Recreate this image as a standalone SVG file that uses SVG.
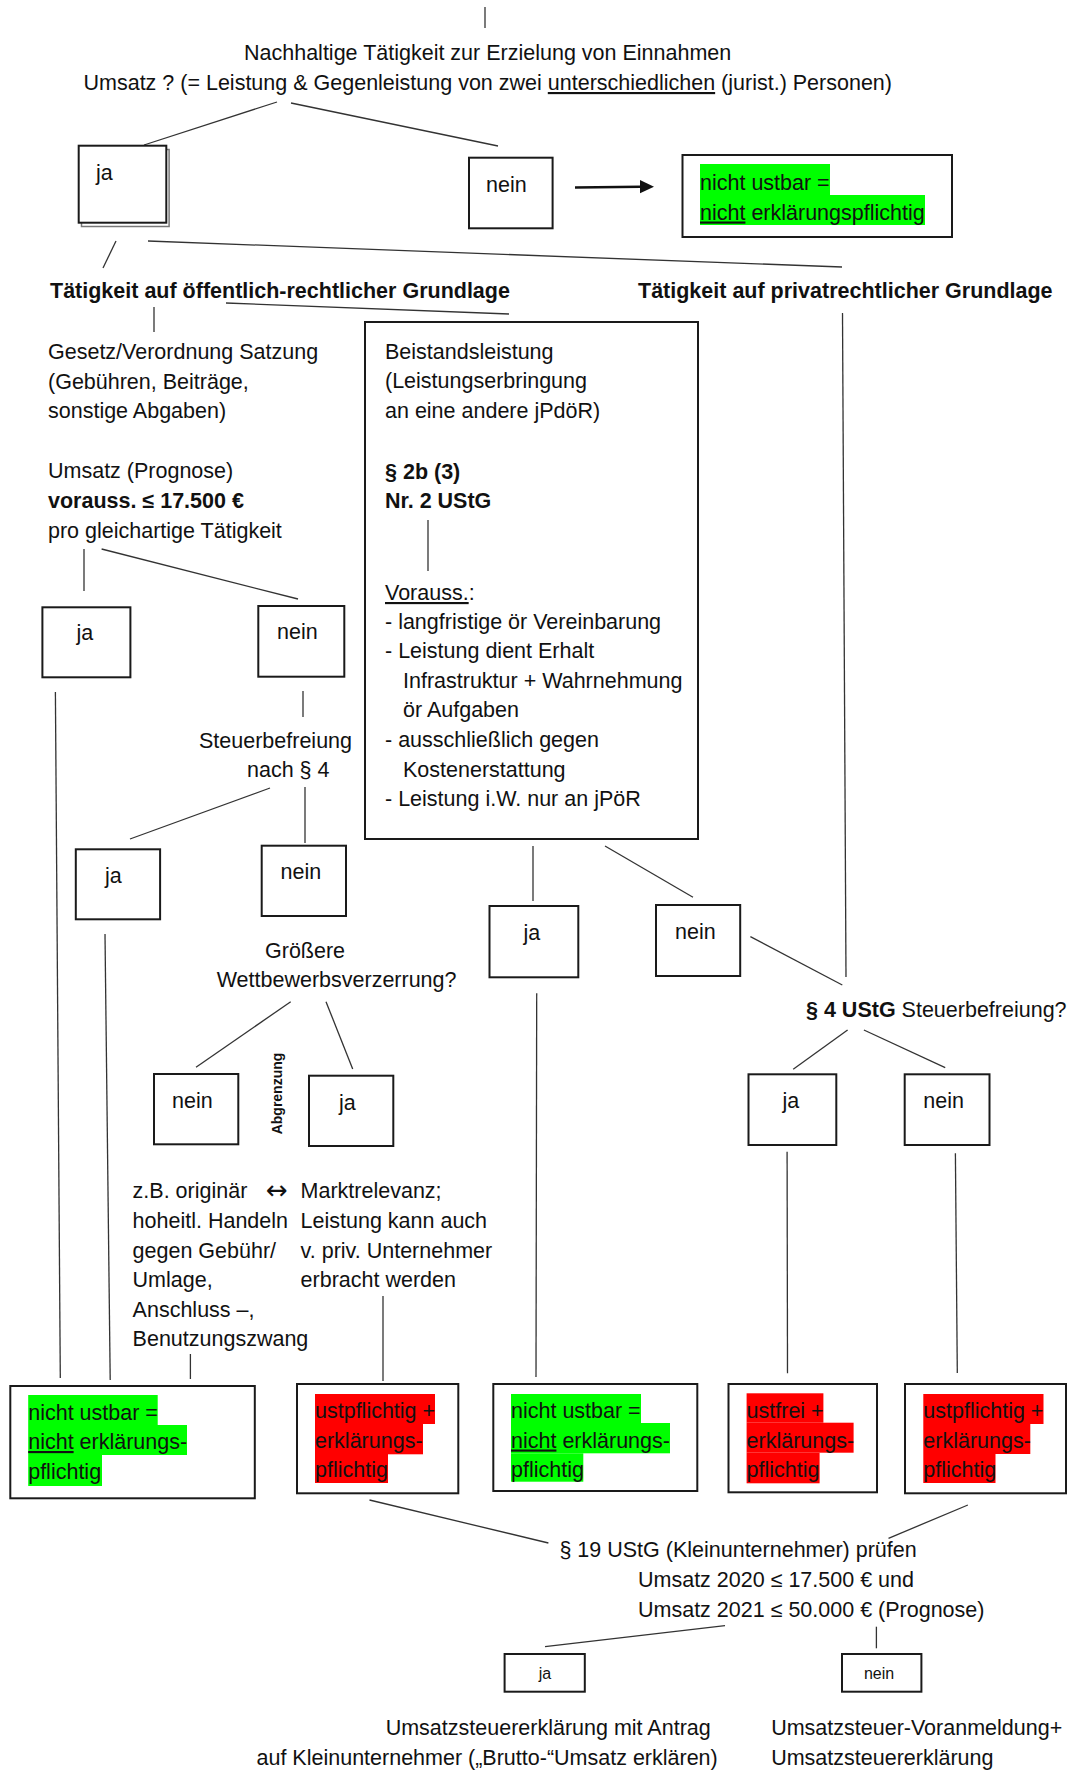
<svg xmlns="http://www.w3.org/2000/svg" width="1073" height="1772" viewBox="0 0 1073 1772">
<style>
text{font-family:"Liberation Sans",Arial,sans-serif;font-size:21.5px;fill:#111}
.b{font-weight:bold}
.sm{font-size:16px}
.u{text-decoration:underline}
.box{fill:#fff;stroke:#1a1a1a;stroke-width:2}
.ln{stroke:#333;stroke-width:1.3;fill:none}
.g{fill:#00ff00}
.r{fill:#ff0000}
.arr{font-family:"DejaVu Sans",sans-serif;font-size:26px}
</style>
<rect width="1073" height="1772" fill="#fff"/>

<g id="connectors">
<line class="ln" x1="485" y1="7" x2="485" y2="28"/>
<line class="ln" x1="277" y1="102" x2="144" y2="145"/>
<line class="ln" x1="291" y1="103" x2="498" y2="146"/>
<line x1="575" y1="187.5" x2="641" y2="186.8" stroke="#111" stroke-width="2.5"/>
<polygon points="640,180 654,186.7 640,193.3" fill="#111"/>
<line class="ln" x1="116" y1="241" x2="103" y2="268"/>
<line class="ln" x1="148" y1="241" x2="842" y2="267"/>
<line class="ln" x1="226" y1="303" x2="509" y2="314"/>
<line class="ln" x1="154" y1="307" x2="154" y2="332"/>
<line class="ln" x1="842.5" y1="313" x2="846" y2="977"/>
<line class="ln" x1="84" y1="549" x2="84" y2="591"/>
<line class="ln" x1="101.6" y1="549" x2="298" y2="599"/>
<line class="ln" x1="303" y1="691" x2="303" y2="717"/>
<line class="ln" x1="270" y1="788" x2="130" y2="839"/>
<line class="ln" x1="305" y1="787" x2="305" y2="843"/>
<line class="ln" x1="55.4" y1="692" x2="60.3" y2="1378"/>
<line class="ln" x1="105" y1="934" x2="110.2" y2="1380"/>
<line class="ln" x1="290.7" y1="1001.7" x2="196" y2="1067.3"/>
<line class="ln" x1="326" y1="1001.7" x2="352.7" y2="1069"/>
<line class="ln" x1="383" y1="1296" x2="383" y2="1381"/>
<line class="ln" x1="190.4" y1="1354" x2="190.4" y2="1379"/>
<line class="ln" x1="533" y1="846" x2="533" y2="901"/>
<line class="ln" x1="605" y1="846" x2="693" y2="897.3"/>
<line class="ln" x1="536.7" y1="993.3" x2="536" y2="1377"/>
<line class="ln" x1="750.4" y1="936.7" x2="842.3" y2="985"/>
<line class="ln" x1="847.6" y1="1030" x2="793.2" y2="1069.3"/>
<line class="ln" x1="863.9" y1="1030" x2="945.2" y2="1067.7"/>
<line class="ln" x1="787.1" y1="1151.7" x2="787.5" y2="1373.3"/>
<line class="ln" x1="955.4" y1="1153.3" x2="957.3" y2="1373"/>
<line class="ln" x1="369.5" y1="1500" x2="548.4" y2="1543"/>
<line class="ln" x1="967.9" y1="1505" x2="888.5" y2="1538.3"/>
<line class="ln" x1="725" y1="1625.7" x2="545" y2="1646.7"/>
<line class="ln" x1="876.4" y1="1626.7" x2="876.4" y2="1648.3"/>
</g>

<g id="title">
<text x="244" y="60">Nachhaltige Tätigkeit zur Erzielung von Einnahmen</text>
<text x="83.5" y="90">Umsatz ? (= Leistung &amp; Gegenleistung von zwei <tspan class="u">unterschiedlichen</tspan> (jurist.) Personen)</text>
</g>

<g id="ja-top">
<rect x="81.5" y="149.5" width="87.6" height="77" fill="#fff" stroke="#777" stroke-width="1.5"/>
<rect class="box" x="78.7" y="145.7" width="87.6" height="77"/>
<text x="96" y="180">ja</text>
</g>
<g id="nein-top">
<rect class="box" x="469" y="157.7" width="83.6" height="70.6"/>
<text x="486" y="192">nein</text>
</g>
<g id="nicht-ustbar-top">
<rect class="box" x="682.5" y="155" width="269.5" height="82"/>
<rect class="g" x="700" y="164" width="130" height="31"/>
<rect class="g" x="700" y="195" width="225" height="30"/>
<text x="700" y="189.5">nicht ustbar =</text>
<text x="700" y="219.5"><tspan class="u">nicht</tspan> erklärungspflichtig</text>
</g>

<g id="oeffentlich">
<text class="b" x="50" y="298">Tätigkeit auf öffentlich-rechtlicher Grundlage</text>
</g>
<g id="privat">
<text class="b" x="638" y="298">Tätigkeit auf privatrechtlicher Grundlage</text>
</g>

<g id="gesetz">
<text x="48" y="359">Gesetz/Verordnung Satzung</text>
<text x="48" y="388.5">(Gebühren, Beiträge,</text>
<text x="48" y="418">sonstige Abgaben)</text>
<text x="48" y="478">Umsatz (Prognose)</text>
<text class="b" x="48" y="508">vorauss. ≤ 17.500 €</text>
<text x="48" y="538">pro gleichartige Tätigkeit</text>
</g>

<g id="beistand">
<rect class="box" x="365" y="322" width="333" height="517" stroke-width="1.6"/>
<text x="385" y="358.5">Beistandsleistung</text>
<text x="385" y="388">(Leistungserbringung</text>
<text x="385" y="418">an eine andere jPdöR)</text>
<text class="b" x="385" y="478.5">§ 2b (3)</text>
<text class="b" x="385" y="508">Nr. 2 UStG</text>
<line class="ln" x1="428" y1="520" x2="428" y2="571"/>
<text x="385" y="600"><tspan class="u">Vorauss.</tspan>:</text>
<text x="385" y="629">- langfristige ör Vereinbarung</text>
<text x="385" y="658">- Leistung dient Erhalt</text>
<text x="403" y="687.5">Infrastruktur + Wahrnehmung</text>
<text x="403" y="717">ör Aufgaben</text>
<text x="385" y="747">- ausschließlich gegen</text>
<text x="403" y="776.5">Kostenerstattung</text>
<text x="385" y="806">- Leistung i.W. nur an jPöR</text>
</g>

<g id="ja-umsatz">
<rect class="box" x="42.4" y="607.3" width="88" height="70"/>
<text x="76.4" y="640">ja</text>
</g>
<g id="nein-umsatz">
<rect class="box" x="258.3" y="606" width="86" height="70.7"/>
<text x="277" y="639">nein</text>
</g>
<g id="steuerbefreiung4">
<text x="199" y="748.3">Steuerbefreiung</text>
<text x="247" y="777">nach § 4</text>
</g>
<g id="ja-befreiung">
<rect class="box" x="75.8" y="849.3" width="84.3" height="70"/>
<text x="105" y="883">ja</text>
</g>
<g id="nein-befreiung">
<rect class="box" x="261.7" y="845.7" width="84.3" height="70.3"/>
<text x="280.6" y="879">nein</text>
</g>
<g id="wettbewerb">
<text x="265" y="958">Größere</text>
<text x="216.7" y="987">Wettbewerbsverzerrung?</text>
</g>
<g id="nein-wettbewerb">
<rect class="box" x="154" y="1074" width="84.3" height="70.3"/>
<text x="172" y="1108">nein</text>
</g>
<g id="ja-wettbewerb">
<rect class="box" x="309" y="1075.7" width="84.3" height="70.3"/>
<text x="339" y="1110">ja</text>
</g>
<g id="abgrenzung">
<text class="b" text-anchor="middle" transform="translate(282 1093.5) rotate(-90)" style="font-size:14px">Abgrenzung</text>
</g>
<g id="hoheitlich">
<text x="132.6" y="1198">z.B. originär</text>
<text x="132.6" y="1228">hoheitl. Handeln</text>
<text x="132.6" y="1257.5">gegen Gebühr/</text>
<text x="132.6" y="1287">Umlage,</text>
<text x="132.6" y="1316.5">Anschluss –,</text>
<text x="132.6" y="1346">Benutzungszwang</text>
<text class="arr" x="266" y="1199">↔</text>
</g>
<g id="marktrelevanz">
<text x="300.6" y="1198">Marktrelevanz;</text>
<text x="300.6" y="1228">Leistung kann auch</text>
<text x="300.6" y="1257.5">v. priv. Unternehmer</text>
<text x="300.6" y="1287">erbracht werden</text>
</g>

<g id="ja-beistand">
<rect class="box" x="489.5" y="906" width="88.8" height="71.3"/>
<text x="523.5" y="940">ja</text>
</g>
<g id="nein-beistand">
<rect class="box" x="656" y="905" width="84.2" height="71"/>
<text x="675" y="939.3">nein</text>
</g>
<g id="ustg4">
<text x="806" y="1016.7"><tspan class="b">§ 4 UStG</tspan> Steuerbefreiung?</text>
</g>
<g id="ja-ustg4">
<rect class="box" x="748.5" y="1074.3" width="87.8" height="70.7"/>
<text x="782.6" y="1108.3">ja</text>
</g>
<g id="nein-ustg4">
<rect class="box" x="904.7" y="1074.3" width="84.8" height="70.7"/>
<text x="923.3" y="1107.7">nein</text>
</g>

<g id="result-1">
<rect class="box" x="10.3" y="1386" width="244.5" height="112.3"/>
<rect class="g" x="28.2" y="1395" width="129.5" height="30"/>
<rect class="g" x="28.2" y="1425" width="158.8" height="30"/>
<rect class="g" x="28.2" y="1455" width="73.8" height="31"/>
<text x="28.2" y="1419.5">nicht ustbar =</text>
<text x="28.2" y="1449"><tspan class="u">nicht</tspan> erklärungs-</text>
<text x="28.2" y="1478.5">pflichtig</text>
</g>
<g id="result-2">
<rect class="box" x="297" y="1384" width="161.3" height="109.3"/>
<rect class="r" x="315" y="1394" width="120" height="30"/>
<rect class="r" x="315" y="1424" width="108" height="30.3"/>
<rect class="r" x="315" y="1454" width="73" height="29"/>
<text x="315" y="1418">ustpflichtig +</text>
<text x="315" y="1447.5">erklärungs-</text>
<text x="315" y="1477">pflichtig</text>
</g>
<g id="result-3">
<rect class="box" x="493.3" y="1384" width="204" height="107"/>
<rect class="g" x="511" y="1394" width="130" height="29"/>
<rect class="g" x="511" y="1423" width="159" height="30.3"/>
<rect class="g" x="511" y="1453.3" width="72.3" height="28.4"/>
<text x="511" y="1418">nicht ustbar =</text>
<text x="511" y="1447.5"><tspan class="u">nicht</tspan> erklärungs-</text>
<text x="511" y="1477">pflichtig</text>
</g>
<g id="result-4">
<rect class="box" x="728.5" y="1384" width="148.5" height="108.3"/>
<rect class="r" x="746.6" y="1393.3" width="76.8" height="29.4"/>
<rect class="r" x="746.6" y="1422.7" width="107" height="30"/>
<rect class="r" x="746.6" y="1452.7" width="73" height="30.6"/>
<text x="746.6" y="1418">ustfrei +</text>
<text x="746.6" y="1447.5">erklärungs-</text>
<text x="746.6" y="1477">pflichtig</text>
</g>
<g id="result-5">
<rect class="box" x="905" y="1384" width="161" height="109.3"/>
<rect class="r" x="923.3" y="1394" width="120.2" height="30"/>
<rect class="r" x="923.3" y="1424" width="107" height="30"/>
<rect class="r" x="923.3" y="1454" width="72.2" height="29"/>
<text x="923.3" y="1418">ustpflichtig +</text>
<text x="923.3" y="1447.5">erklärungs-</text>
<text x="923.3" y="1477">pflichtig</text>
</g>

<g id="ustg19">
<text x="559.4" y="1556.7">§ 19 UStG (Kleinunternehmer) prüfen</text>
<text x="638" y="1587">Umsatz 2020 ≤ 17.500 € und</text>
<text x="638" y="1617">Umsatz 2021 ≤ 50.000 € (Prognose)</text>
</g>
<g id="ja-19">
<rect class="box" x="504.6" y="1654" width="80.2" height="37.7"/>
<text class="sm" x="545" y="1679" text-anchor="middle">ja</text>
</g>
<g id="nein-19">
<rect class="box" x="842" y="1654" width="79.4" height="37.7"/>
<text class="sm" x="879" y="1679" text-anchor="middle">nein</text>
</g>
<g id="antrag">
<text x="385.7" y="1735">Umsatzsteuererklärung mit Antrag</text>
<text x="256.5" y="1765">auf Kleinunternehmer („Brutto-“Umsatz erklären)</text>
</g>
<g id="voranmeldung">
<text x="771.2" y="1735">Umsatzsteuer-Voranmeldung+</text>
<text x="771.2" y="1765">Umsatzsteuererklärung</text>
</g>
</svg>
